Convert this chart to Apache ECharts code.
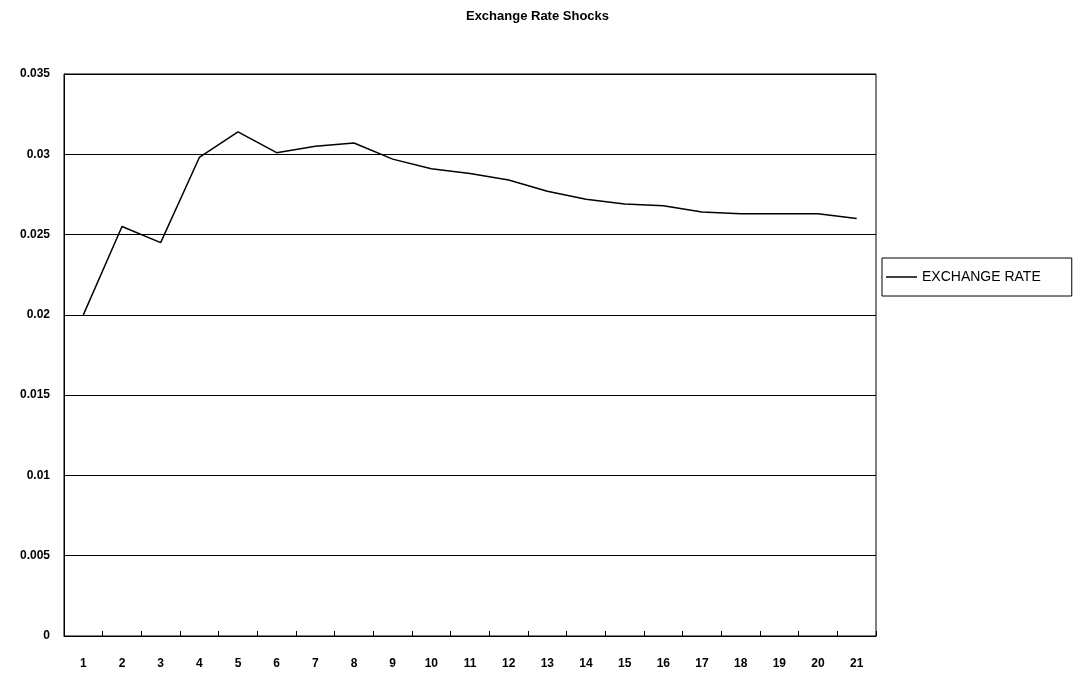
<!DOCTYPE html>
<html>
<head>
<meta charset="utf-8">
<script src="https://cdn.jsdelivr.net/npm/echarts@6/dist/echarts.min.js"></script>
<style>
html,body{margin:0;padding:0;background:#fff;}
#chart{width:1075px;height:681px;}
</style>
</head>
<body>
<div id="chart"></div>
<script>
var categories = ['1','2','3','4','5','6','7','8','9','10','11','12','13','14','15','16','17','18','19','20','21'];
var exchangeRate = [0.0200,0.0255,0.0245,0.0298,0.0314,0.0301,0.0305,0.0307,0.0297,0.0291,0.0288,0.0284,0.0277,0.0272,0.0269,0.0268,0.0264,0.0263,0.0263,0.0263,0.0260];
var seriesName = 'EXCHANGE RATE';
var titleText = 'Exchange Rate Shocks';

var chart = echarts.init(document.getElementById('chart'), null, {renderer:'canvas'});
chart.setOption({
  animation:false,
  backgroundColor:'#fff',
  textStyle:{fontFamily:'Liberation Sans, Arial, sans-serif'},
  title:{
    text:titleText, left:'center', top:5,
    textStyle:{fontSize:13, fontWeight:'bold', color:'#000', fontFamily:'Liberation Sans, Arial, sans-serif'}
  },
  legend:{
    data:[seriesName],
    left:882, top:258,
    padding:[12,31,12,4],
    borderColor:'#000', borderWidth:1,
    icon:'rect', itemWidth:31, itemHeight:1.5, itemGap:4,
    textStyle:{fontSize:14, color:'#000', fontFamily:'Liberation Sans, Arial, sans-serif'}
  },
  grid:{
    left:64, right:199, top:74, bottom:45,
    show:true, borderColor:'#000', borderWidth:1
  },
  xAxis:{
    type:'category', data:categories, boundaryGap:true,
    axisLine:{lineStyle:{color:'#000', width:1}},
    axisTick:{show:true, inside:true, length:5, alignWithLabel:false, lineStyle:{color:'#000'}},
    axisLabel:{color:'#000', fontSize:12, fontWeight:'bold', margin:22}
  },
  yAxis:{
    type:'value', min:0, max:0.035, interval:0.005,
    axisLine:{show:true, lineStyle:{color:'#000'}},
    axisTick:{show:false},
    axisLabel:{color:'#000', fontSize:12, fontWeight:'bold', margin:14,
      formatter:function(v){return v===0?'0':String(+v.toFixed(3));}},
    splitLine:{show:true, lineStyle:{color:'#000', width:1}}
  },
  series:[{
    name:seriesName, type:'line', data:exchangeRate,
    showSymbol:false, symbol:'none',
    lineStyle:{color:'#000', width:1.5},
    itemStyle:{color:'#000'}
  }]
});
</script>
</body>
</html>
